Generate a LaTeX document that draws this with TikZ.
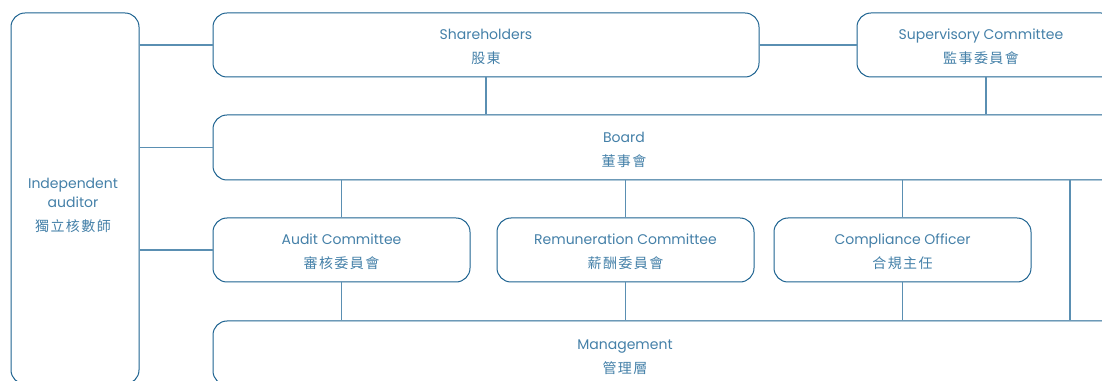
\documentclass[tikz,border=0pt]{standalone}
\usepackage{fontspec}
\setmainfont{Poppins}
\newfontfamily\cjk{Noto Sans CJK TC}[LetterSpace=10]
\usetikzlibrary{positioning}

\definecolor{boxblue}{HTML}{1D6290}
\definecolor{lineblue}{HTML}{5A8FB2}
\definecolor{txtblue}{HTML}{4480A8}

\tikzset{
  unit/.style={draw=boxblue, line width=1pt, rounded corners=14pt, inner sep=0pt},
  link/.style={draw=lineblue, line width=1.6pt},
  lbl/.style={text=txtblue, align=center, font=\fontsize{14}{24}\selectfont},
}

\begin{document}
\begin{tikzpicture}[x=1pt,y=1pt]
    \useasboundingbox (0,0) rectangle (1102,380);
    \clip (0,0) rectangle (1102,380);

    % left column
    \node[unit, minimum width=128pt, minimum height=371pt] (ia) at (75,181.5) {};
    \node[lbl, font=\fontsize{14}{19}\selectfont] (iat) at (73,175) {Independent\\auditor\\[5pt]{\cjk 獨立核數師}};

    % top row
    \node[unit, minimum width=546pt, minimum height=64pt] (sh) at (486,335) {};
    \node[lbl] (sht) at (486,333) {Shareholders\\{\cjk 股東}};
    \node[unit, minimum width=258pt, minimum height=64pt, right=97pt of sh] (sv) {};
    \node[lbl] (svt) at (981,333) {Supervisory Committee\\{\cjk 監事委員會}};

    % board, runs off to the right
    \node[unit, minimum width=917pt, minimum height=65pt] (bd) at (671.5,232.5) {};
    \node[lbl] (bdt) at (624,230.5) {Board\\{\cjk 董事會}};

    % committees
    \node[unit, minimum width=257pt, minimum height=64pt] (ac) at (341.5,130) {};
    \node[unit, minimum width=257pt, minimum height=64pt, right=26pt of ac] (rc) {};
    \node[unit, minimum width=257pt, minimum height=64pt, right=19pt of rc] (co) {};
    \node[lbl, yshift=-2pt] (act) at (ac) {Audit Committee\\{\cjk 審核委員會}};
    \node[lbl, yshift=-2pt] (rct) at (rc) {Remuneration Committee\\{\cjk 薪酬委員會}};
    \node[lbl, yshift=-2pt] (cot) at (co) {Compliance Officer\\{\cjk 合規主任}};

    % management, runs off the bottom
    \node[unit, minimum width=917pt, minimum height=64pt] (mg) at (671.5,27) {};
    \node[lbl] (mgt) at (625,23) {Management\\{\cjk 管理層}};

    \coordinate (rt) at (1070,0);

    \draw[link] (ia.east |- sh) -- (sh.west);
    \draw[link] (sh.east) -- (sv.west);
    \draw[link] (ia.east |- bd) -- (bd.west);
    \draw[link] (ia.east |- ac) -- (ac.west);
    \draw[link] (sh.south) -- (sh.south |- bd.north);
    \draw[link] (sv.south) -- (sv.south |- bd.north);
    \draw[link] (ac.north) -- (ac.north |- bd.south);
    \draw[link] (rc.north) -- (rc.north |- bd.south);
    \draw[link] (co.north) -- (co.north |- bd.south);
    \draw[link] (ac.south) -- (ac.south |- mg.north);
    \draw[link] (rc.south) -- (rc.south |- mg.north);
    \draw[link] (co.south) -- (co.south |- mg.north);
    \draw[link] (bd.south -| rt) -- (mg.north -| rt);
\end{tikzpicture}
\end{document}
